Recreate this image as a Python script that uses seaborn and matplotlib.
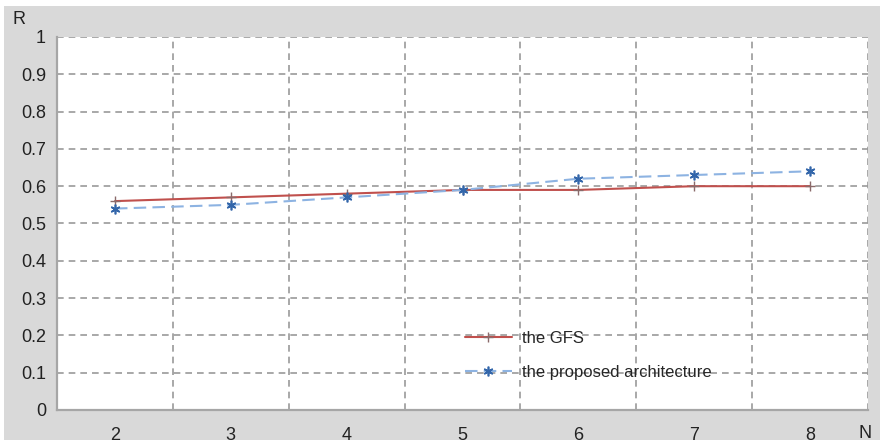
import matplotlib

matplotlib.use("Agg")

import matplotlib.pyplot as plt
import pandas
import seaborn as sns
from matplotlib.patches import Rectangle
from matplotlib.ticker import FixedLocator
from pandas import DataFrame

# Chart data
n_values: list[int] = [2, 3, 4, 5, 6, 7, 8]
gfs_r: list[float] = [0.56, 0.57, 0.58, 0.59, 0.59, 0.60, 0.60]
proposed_r: list[float] = [0.54, 0.55, 0.57, 0.59, 0.62, 0.63, 0.64]
series_names: list[str] = ["the GFS", "the proposed architecture"]
y_ticks: list[float] = [0, 0.1, 0.2, 0.3, 0.4, 0.5, 0.6, 0.7, 0.8, 0.9, 1]
y_tick_labels: list[str] = ["0", "0.1", "0.2", "0.3", "0.4", "0.5",
                            "0.6", "0.7", "0.8", "0.9", "1"]


def build_frame() -> DataFrame:
    gfs: DataFrame = DataFrame({"N": n_values, "R": gfs_r,
                                "series": series_names[0]})
    prop: DataFrame = DataFrame({"N": n_values, "R": proposed_r,
                                 "series": series_names[1]})
    return pandas.concat([gfs, prop], ignore_index=True)


def plot(df: DataFrame) -> None:
    sns.set_style("white")
    plt.rcParams["font.family"] = ["Liberation Sans", "DejaVu Sans"]

    fig = plt.figure(figsize=(8.83, 4.43), dpi=100, facecolor="white")
    # Grey panel behind the chart, with a thin white border like the source
    fig.patches.append(Rectangle((0.004, 0.007), 0.993, 0.979,
                                 transform=fig.transFigure,
                                 facecolor="#d9d9d9", edgecolor="none",
                                 zorder=-10))
    ax = fig.add_axes([0.0646, 0.0745, 0.9184, 0.842])
    ax.set_facecolor("white")

    sns.lineplot(data=df[df["series"] == series_names[0]], x="N", y="R",
                 ax=ax, color="#c0504d", linewidth=1.5, marker="+",
                 markersize=7, markeredgecolor="#8a6a6a",
                 markeredgewidth=1.0, label=series_names[0], zorder=4)
    sns.lineplot(data=df[df["series"] == series_names[1]], x="N", y="R",
                 ax=ax, color="#8db3e2", linewidth=1.5, linestyle=(0, (6, 3)),
                 marker=(6, 2, 0), markersize=7, markeredgecolor="#3366aa",
                 markeredgewidth=1.2, label=series_names[1], zorder=5)

    # Category-style x axis: labels centred, grid lines between them
    ax.set_xlim(1.5, 8.5)
    ax.set_ylim(0, 1)
    ax.xaxis.set_major_locator(FixedLocator(n_values))
    ax.xaxis.set_minor_locator(FixedLocator([n + 0.5 for n in n_values]))
    ax.set_xticklabels([str(n) for n in n_values])
    ax.set_yticks(y_ticks)
    ax.set_yticklabels(y_tick_labels)
    ax.tick_params(axis="x", which="both", length=0, pad=12, labelsize=13,
                   labelcolor="#222222")
    ax.tick_params(axis="y", length=0, pad=8, labelsize=13,
                   labelcolor="#222222")

    ax.grid(False)
    ax.grid(axis="x", which="minor", color="#999999", linestyle=(0, (4, 3)),
            linewidth=1.2)
    ax.grid(axis="y", which="major", color="#999999", linestyle=(0, (4, 3)),
            linewidth=1.2)
    ax.set_axisbelow(True)

    for side in ["top", "right"]:
        ax.spines[side].set_visible(False)
    for side in ["left", "bottom"]:
        ax.spines[side].set_color("#a6a6a6")
        ax.spines[side].set_linewidth(1.6)

    ax.set_xlabel("")
    ax.set_ylabel("")
    fig.text(0.0136, 0.955, "R", fontsize=13, ha="left", va="center",
             color="#222222")
    fig.text(0.972, 0.022, "N", fontsize=13, ha="left", va="center",
             color="#222222")

    ax.legend(loc="center left", bbox_to_anchor=(0.495, 0.146), frameon=False,
              fontsize=12, handlelength=2.8, handletextpad=0.6,
              labelspacing=1.15, borderaxespad=0)

    plt.savefig("out.png", dpi=100, facecolor=fig.get_facecolor())
    plt.clf()
    plt.close()


def main() -> None:
    plot(df=build_frame())


if __name__ == "__main__":
    main()
